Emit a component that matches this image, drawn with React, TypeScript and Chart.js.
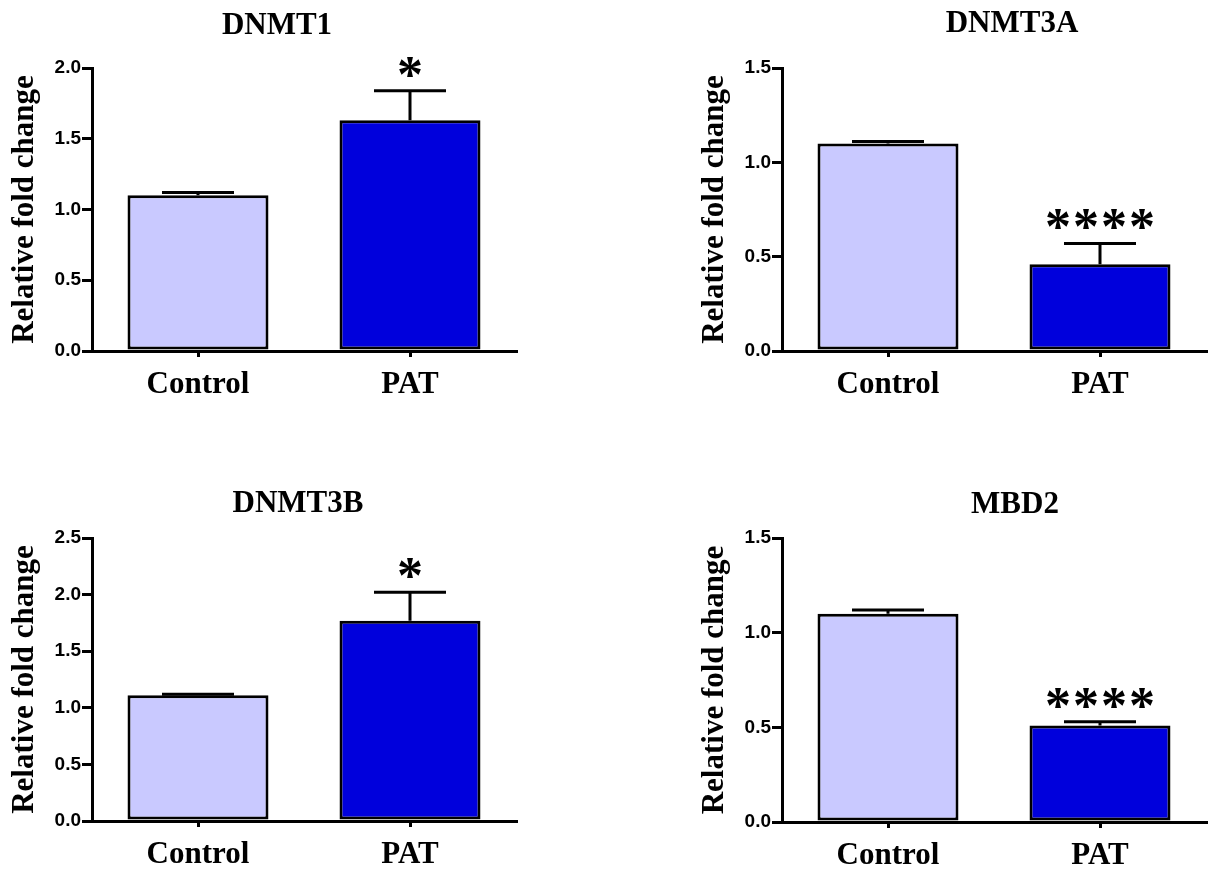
import React, { useEffect, useRef } from 'react';
import { Chart, registerables } from 'chart.js';

Chart.register(...registerables);

// ---------- data ----------
const categories = ['Control', 'PAT'];
const yAxisTitle = 'Relative fold change';

const dnmt1Values = [1.1, 1.63];
const dnmt1Errors = [0.02, 0.21];
const dnmt1Stars = ['', '*'];

const dnmt3aValues = [1.1, 0.46];
const dnmt3aErrors = [0.01, 0.11];
const dnmt3aStars = ['', '****'];

const dnmt3bValues = [1.11, 1.77];
const dnmt3bErrors = [0.01, 0.25];
const dnmt3bStars = ['', '*'];

const mbd2Values = [1.1, 0.51];
const mbd2Errors = [0.02, 0.02];
const mbd2Stars = ['', '****'];

const yMaxValues = [2.0, 1.5, 2.5, 1.5];
const yStep = 0.5;

// ---------- styles ----------
const SERIF = '"Liberation Serif", "Times New Roman", serif';
const SANS = '"Liberation Sans", Arial, sans-serif';
const barColors = ['#C9C9FF', '#0000DC'];

interface PanelLayout {
  left: number;
  top: number;
  width: number;
  height: number;
  areaLeft: number;
  areaTop: number;
  areaRight: number;
  areaBottom: number;
  titleX: number;
  titleBaseline: number;
}

const overlayPlugin = {
  id: 'overlay',
  afterDatasetsDraw(chart: any, _args: any, opts: any) {
    const ctx = chart.ctx;
    const meta = chart.getDatasetMeta(0);
    const ys = chart.scales.y;
    const values = chart.data.datasets[0].data as number[];
    ctx.save();
    meta.data.forEach((bar: any, i: number) => {
      const v = values[i];
      const e = opts.errors[i];
      const yBar = ys.getPixelForValue(v);
      const yTop = ys.getPixelForValue(v + e);
      ctx.strokeStyle = '#000';
      ctx.lineWidth = 3;
      ctx.lineCap = 'butt';
      ctx.beginPath();
      ctx.moveTo(bar.x, yBar);
      ctx.lineTo(bar.x, yTop);
      ctx.moveTo(bar.x - 36, yTop);
      ctx.lineTo(bar.x + 36, yTop);
      ctx.stroke();
      const s = opts.stars[i];
      if (s) {
        ctx.fillStyle = '#000';
        ctx.font = `bold 52px ${SERIF}`;
        ctx.textAlign = 'center';
        ctx.textBaseline = 'alphabetic';
        (ctx as any).letterSpacing = '2px';
        ctx.fillText(s, bar.x + 1, yTop + 1);
        (ctx as any).letterSpacing = '0px';
      }
    });
    ctx.restore();
  },
  afterDraw(chart: any, _args: any, opts: any) {
    const ctx = chart.ctx;
    ctx.save();
    ctx.fillStyle = '#000';
    ctx.font = `bold 31px ${SERIF}`;
    ctx.textAlign = 'center';
    ctx.textBaseline = 'alphabetic';
    ctx.fillText(opts.title, opts.titleX, opts.titleY);
    ctx.restore();
  },
};

function Panel(props: {
  title: string;
  values: number[];
  errors: number[];
  stars: string[];
  yMax: number;
  layout: PanelLayout;
}) {
  const ref = useRef<HTMLCanvasElement | null>(null);
  const { title, values, errors, stars, yMax, layout } = props;

  useEffect(() => {
    if (!ref.current) return;
    const L = layout;
    const yWidth = L.areaLeft - L.left;
    const xHeight = L.top + L.height - L.areaBottom;
    const padRight = L.left + L.width - L.areaRight;
    const padTop = L.areaTop - L.top;

    const chart = new Chart(ref.current, {
      type: 'bar',
      data: {
        labels: categories,
        datasets: [
          {
            data: values,
            backgroundColor: barColors,
            borderColor: '#000',
            borderWidth: 3,
            borderSkipped: false,
            categoryPercentage: 1,
            barPercentage: 0.665,
          },
        ],
      },
      options: {
        responsive: false,
        animation: false,
        devicePixelRatio: 1,
        layout: { padding: { left: 0, right: padRight, top: padTop, bottom: 0 } },
        plugins: {
          legend: { display: false },
          tooltip: { enabled: false },
          title: { display: false },
          overlay: {
            errors,
            stars,
            title,
            titleX: L.titleX - L.left,
            titleY: L.titleBaseline - L.top,
          },
        } as any,
        scales: {
          x: {
            offset: true,
            grid: {
              display: true,
              offset: false,
              drawOnChartArea: false,
              drawTicks: true,
              tickLength: 6,
              color: '#000',
              lineWidth: 3,
            },
            border: { display: true, color: '#000', width: 3 },
            ticks: {
              color: '#000',
              font: { family: SERIF, size: 31, weight: 'bold' },
              padding: 9,
              maxRotation: 0,
              autoSkip: false,
            },
            afterFit: (scale: any) => {
              scale.height = xHeight;
            },
          },
          y: {
            min: 0,
            max: yMax,
            grid: {
              display: true,
              drawOnChartArea: false,
              drawTicks: true,
              tickLength: 10,
              color: '#000',
              lineWidth: 3,
            },
            border: { display: true, color: '#000', width: 3 },
            ticks: {
              stepSize: yStep,
              color: '#000',
              font: { family: SANS, size: 19, weight: 'bold' },
              padding: 1,
              callback: (v: any) => Number(v).toFixed(1),
            },
            title: {
              display: true,
              text: yAxisTitle,
              color: '#000',
              font: { family: SERIF, size: 31, weight: 'bold' },
              padding: { top: 6, bottom: 0 },
            },
            afterFit: (scale: any) => {
              scale.width = yWidth;
            },
          },
        },
      },
      plugins: [overlayPlugin as any],
    });
    return () => chart.destroy();
  }, []);

  return (
    <div
      style={{
        position: 'absolute',
        left: layout.left,
        top: layout.top,
        width: layout.width,
        height: layout.height,
      }}
    >
      <canvas ref={ref} width={layout.width} height={layout.height} />
    </div>
  );
}

const layouts: PanelLayout[] = [
  { left: 0, top: 0, width: 600, height: 435, areaLeft: 92, areaTop: 68, areaRight: 516, areaBottom: 351, titleX: 277, titleBaseline: 34 },
  { left: 690, top: 0, width: 518, height: 435, areaLeft: 782, areaTop: 68, areaRight: 1206, areaBottom: 351, titleX: 1012, titleBaseline: 32 },
  { left: 0, top: 435, width: 600, height: 435, areaLeft: 92, areaTop: 538, areaRight: 516, areaBottom: 821, titleX: 298, titleBaseline: 512 },
  { left: 690, top: 435, width: 518, height: 435, areaLeft: 782, areaTop: 538, areaRight: 1206, areaBottom: 822, titleX: 1015, titleBaseline: 513 },
];

export default function App() {
  const titles = ['DNMT1', 'DNMT3A', 'DNMT3B', 'MBD2'];
  const vals = [dnmt1Values, dnmt3aValues, dnmt3bValues, mbd2Values];
  const errs = [dnmt1Errors, dnmt3aErrors, dnmt3bErrors, mbd2Errors];
  const strs = [dnmt1Stars, dnmt3aStars, dnmt3bStars, mbd2Stars];
  return (
    <div
      style={{
        position: 'fixed',
        left: 0,
        top: 0,
        width: 1208,
        height: 870,
        background: '#fff',
        overflow: 'hidden',
      }}
    >
      {titles.map((t, i) => (
        <Panel
          key={t}
          title={t}
          values={vals[i]}
          errors={errs[i]}
          stars={strs[i]}
          yMax={yMaxValues[i]}
          layout={layouts[i]}
        />
      ))}
    </div>
  );
}
